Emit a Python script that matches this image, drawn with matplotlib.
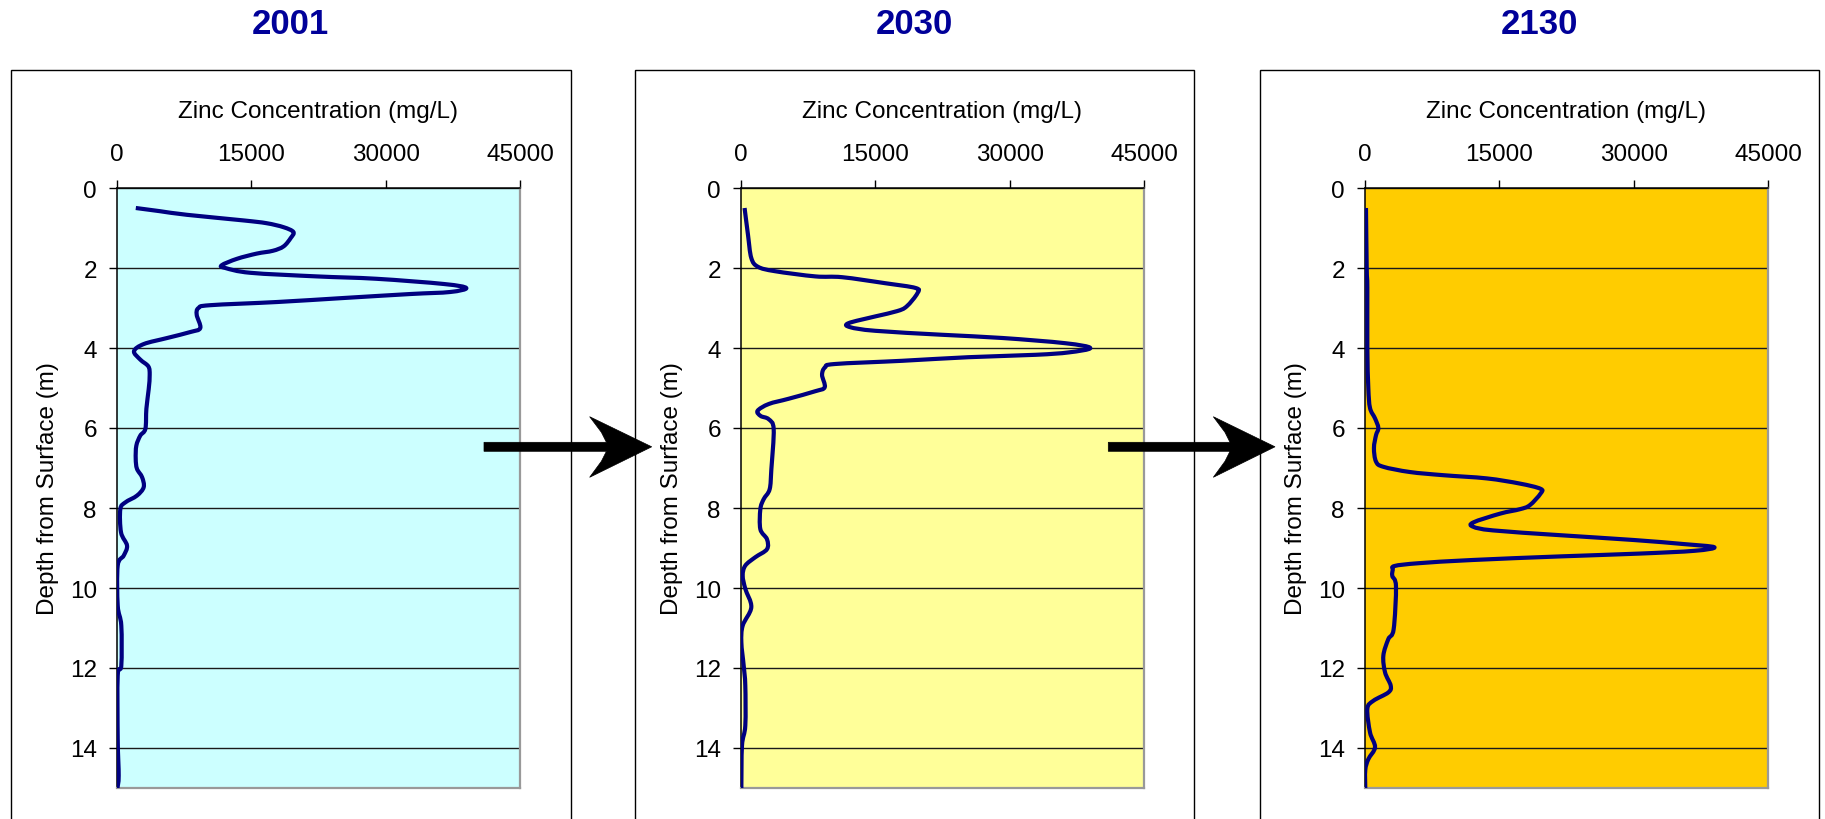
import matplotlib
matplotlib.use("Agg")
import matplotlib.pyplot as plt
from matplotlib.patches import Rectangle, Polygon, PathPatch
from matplotlib.path import Path

plt.rcParams['font.family'] = ['Liberation Sans', 'DejaVu Sans']

# ---------------- data ----------------
years = ["2001", "2030", "2130"]
panel_colors = ["#CCFFFF", "#FFFF99", "#FFCC00"]

depth_2001 = [0.50, 0.58, 0.67, 0.81, 0.88, 0.98, 1.10, 1.25, 1.46, 1.57, 1.64, 1.77,
              1.93, 2.00, 2.12, 2.21, 2.27, 2.40, 2.50, 2.60, 2.65, 2.75, 2.85, 2.93,
              3.00, 3.17, 3.50, 3.60, 3.75, 3.90, 4.08, 4.29, 4.46, 4.67, 5.03, 5.52,
              6.02, 6.19, 6.44, 6.77, 7.02, 7.23, 7.48, 7.69, 7.86, 8.03, 8.61, 8.94,
              9.19, 9.44, 10.44, 10.94, 11.94, 12.19, 13.78, 14.69, 15.00]
zinc_2001 = [2100, 4800, 7800, 14100, 16700, 18600, 19700, 19400, 18600, 17400, 15600, 13400,
             11700, 12100, 14900, 22300, 29000, 36500, 39000, 37200, 32800, 25300, 17900, 10400,
             9100, 8900, 9300, 8200, 5600, 3000, 1900, 2600, 3500, 3650, 3540, 3280,
             3170, 2600, 2160, 2090, 2230, 2800, 2980, 2230, 930, 370, 450, 1120,
             750, 80, 80, 480, 480, 80, 80, 190, 50]

depth_2030 = [0.50, 1.17, 1.75, 1.97, 2.08, 2.21, 2.23, 2.38, 2.50, 2.63, 2.96, 3.08,
              3.21, 3.38, 3.48, 3.57, 3.67, 3.75, 3.88, 4.00, 4.11, 4.17, 4.23, 4.32,
              4.40, 4.48, 4.67, 4.98, 5.08, 5.27, 5.40, 5.57, 5.70, 5.78, 6.03, 7.03,
              7.53, 7.78, 8.03, 8.53, 8.78, 9.03, 9.23, 9.44, 9.69, 10.02, 10.48, 10.94,
              11.36, 11.94, 12.44, 13.44, 13.94, 15.00]
zinc_2030 = [400, 780, 1150, 1900, 3800, 8300, 11300, 16100, 19500, 19700, 18500, 17400,
             15000, 12000, 12200, 15000, 22500, 29200, 36200, 39000, 36600, 32900, 25400, 18000,
             10500, 9400, 9050, 9350, 8300, 5300, 3100, 1850, 2200, 3090, 3650, 3390,
             3200, 2530, 2160, 2160, 2900, 2900, 1600, 480, 190, 480, 1150, 190,
             40, 300, 480, 480, 110, 40]

depth_2130 = [0.50, 2.00, 2.50, 4.00, 5.00, 5.50, 5.76, 6.00, 6.18, 6.50, 6.84, 6.97,
              7.10, 7.18, 7.26, 7.39, 7.52, 7.64, 7.93, 8.03, 8.14, 8.36, 8.47, 8.56,
              8.68, 8.80, 8.90, 8.98, 9.07, 9.14, 9.21, 9.30, 9.38, 9.45, 9.55, 9.70,
              9.96, 11.03, 11.28, 11.69, 12.11, 12.44, 12.61, 12.82, 13.02, 13.61, 13.98,
              14.28, 14.55, 15.00]
zinc_2130 = [110, 190, 260, 260, 370, 560, 1120, 1490, 1230, 1000, 1230, 2050,
             5000, 8750, 13600, 17300, 19600, 19600, 18400, 17300, 15100, 12100, 12100, 14300,
             21800, 30000, 35500, 39000, 36800, 30600, 21800, 12000, 6000, 3300, 3100, 3050,
             3460, 3200, 2600, 2050, 2240, 2870, 2610, 930, 260, 560, 1120,
             370, 30, 30]

depths = [depth_2001, depth_2030, depth_2130]
zincs = [zinc_2001, zinc_2030, zinc_2130]

x_ticks = [0, 15000, 30000, 45000]
x_tick_labels = ["0", "15000", "30000", "45000"]
y_ticks = [0, 2, 4, 6, 8, 10, 12, 14]
y_tick_labels = ["0", "2", "4", "6", "8", "10", "12", "14"]
x_label = "Zinc Concentration (mg/L)"
y_label = "Depth from Surface (m)"

# ---------------- layout (pixels) ----------------
W, H = 1825, 820
fig = plt.figure(figsize=(W / 100, H / 100), dpi=100)


def fx(px):
    return px / W


def fy(py):
    return 1 - py / H


def smooth_path(xs, ys):
    """Excel-style smoothed line: cubic Bezier segments through every point."""
    pts = list(zip(xs, ys))
    n = len(pts)
    verts = [pts[0]]
    codes = [Path.MOVETO]
    for k in range(n - 1):
        p0 = pts[k - 1] if k > 0 else pts[k]
        p1 = pts[k]
        p2 = pts[k + 1]
        p3 = pts[k + 2] if k + 2 < n else pts[k + 1]
        c1 = (p1[0] + (p2[0] - p0[0]) / 6.0, p1[1] + (p2[1] - p0[1]) / 6.0)
        c2 = (p2[0] - (p3[0] - p1[0]) / 6.0, p2[1] - (p3[1] - p1[1]) / 6.0)
        verts += [c1, c2, p2]
        codes += [Path.CURVE4] * 3
    return Path(verts, codes)


plot_left = [117, 741, 1365]
plot_w = 403
plot_top, plot_bottom = 189, 789
box_left = [11, 634.5, 1259.5]
box_w = 559.5
box_top = 70.5

line_color = "#000080"
title_color = "#000099"
fs = 17.5

for i in range(3):
    # outer chart box
    fig.patches.append(Rectangle((fx(box_left[i]), -0.05), box_w / W, fy(box_top) + 0.05,
                                 transform=fig.transFigure, fill=False,
                                 edgecolor="black", lw=1.0, zorder=-1))
    fig.text(fx(box_left[i] + box_w / 2), fy(24), years[i], ha="center", va="center",
             fontsize=25, fontweight="bold", color=title_color)

    ax = fig.add_axes([fx(plot_left[i]), fy(plot_bottom), plot_w / W,
                       (plot_bottom - plot_top) / H])
    ax.set_facecolor(panel_colors[i])
    ax.add_patch(PathPatch(smooth_path(zincs[i], depths[i]), fill=False,
                           edgecolor=line_color, lw=3.0, joinstyle="round",
                           capstyle="butt", zorder=3))
    ax.set_xlim(0, 45000)
    ax.set_ylim(15, 0)
    ax.xaxis.tick_top()
    ax.xaxis.set_label_position("top")
    ax.set_xticks(x_ticks)
    ax.set_xticklabels(x_tick_labels)
    ax.set_yticks(y_ticks)
    ax.set_yticklabels(y_tick_labels)
    ax.tick_params(axis="x", direction="out", length=5.5, width=1.0, pad=11,
                   labelsize=fs, colors="black")
    ax.tick_params(axis="y", direction="out", length=5.5, width=1.0, pad=9,
                   labelsize=fs, colors="black")
    ax.set_xlabel(x_label, fontsize=fs, labelpad=19)
    ax.set_ylabel(y_label, fontsize=fs)
    ax.yaxis.set_label_coords(-0.143, 0.5)
    ax.yaxis.grid(True, color="#1a1a1a", lw=1.0, zorder=1)
    ax.set_axisbelow(True)
    for s in ["top", "left"]:
        ax.spines[s].set_color("black")
        ax.spines[s].set_linewidth(1.1)
    for s in ["right", "bottom"]:
        ax.spines[s].set_color("#999999")
        ax.spines[s].set_linewidth(1.6)

# ---------------- arrows between panels ----------------
for start, tip in [(484, 651.7), (1108.3, 1275)]:
    d = tip - start
    pts_px = [(start, 443.3), (start + d * 0.73, 443.3), (start + d * 0.70, 433.3),
              (start + d * 0.63, 417.7), (tip, 447.8), (start + d * 0.63, 478.3),
              (start + d * 0.70, 462.3), (start + d * 0.73, 452.3), (start, 452.3)]
    fig.patches.append(Polygon([(fx(x), fy(y)) for x, y in pts_px], closed=True,
                               transform=fig.transFigure, facecolor="black",
                               edgecolor="black", lw=0.5, zorder=10))

fig.savefig("out.png", dpi=100)
